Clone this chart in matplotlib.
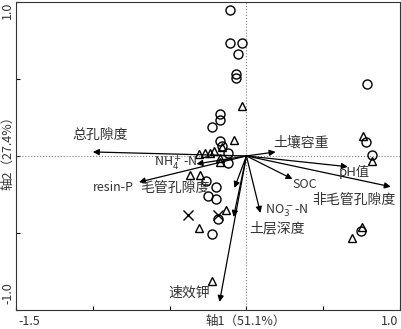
import matplotlib
matplotlib.use('Agg')
import matplotlib.pyplot as plt

plt.rcParams['font.family'] = ['Noto Sans CJK SC', 'DejaVu Sans']

# 样点得分
circle_x = [-0.110, -0.110, -0.032, -0.052, -0.071, -0.071, -0.169, -0.169, -0.227, -0.175,
            -0.162, -0.123, -0.117, -0.266, -0.195, -0.253, -0.195, -0.188, -0.221,
            0.786, 0.779, 0.818, 0.747]
circle_y = [0.948, 0.734, 0.734, 0.662, 0.532, 0.506, 0.273, 0.234, 0.188, 0.097,
            0.065, 0.019, -0.045, -0.162, -0.201, -0.260, -0.279, -0.409, -0.506,
            0.468, 0.091, 0.006, -0.487]
tri_x = [-0.026, -0.078, -0.156, -0.214, -0.312, -0.273, -0.234, -0.169, -0.175,
         -0.370, -0.305, -0.136, -0.312, -0.221, 0.760, 0.818, 0.753, 0.688]
tri_y = [0.325, 0.104, 0.058, 0.032, 0.013, 0.019, 0.019, -0.013, -0.039,
         -0.123, -0.123, -0.351, -0.468, -0.812, 0.130, -0.032, -0.461, -0.532]
cross_x = [-0.383, -0.182]
cross_y = [-0.383, -0.383]

# 环境因子
env_names = ['总孔隙度', r'NH$_4^+$-N', 'resin-P', '毛管孔隙度', '土层深度',
             r'NO$_3^-$-N', 'SOC', '非毛管孔隙度', 'pH值', '土壤容重', '速效钾']
env_x = [-1.00, -0.325, -0.70, -0.078, -0.084, 0.091, 0.30, 0.94, 0.66, 0.19, -0.175]
env_y = [0.026, -0.052, -0.17, -0.208, -0.396, -0.370, -0.15, -0.20, -0.07, 0.026, -0.948]
label_x = [-0.955, -0.461, -0.864, -0.468, 0.201, 0.260, 0.377, 0.701, 0.700, 0.357, -0.370]
label_y = [0.136, -0.045, -0.208, -0.208, -0.468, -0.357, -0.188, -0.286, -0.104, 0.084, -0.890]
label_size = [10, 9, 9, 10, 10, 9, 9, 10, 9.5, 10, 10]

fig = plt.figure(figsize=(4.02, 3.29), dpi=100)
ax = fig.add_axes([0.04, 0.058, 0.955, 0.936])

ax.axhline(0, color='gray', ls=':', lw=0.8)
ax.axvline(0, color='gray', ls=':', lw=0.8)

ax.plot(circle_x, circle_y, 'o', mfc='none', mec='black', ms=6.5, mew=1.0)
ax.plot(tri_x, tri_y, '^', mfc='none', mec='black', ms=5.5, mew=1.0)
ax.plot(cross_x, cross_y, 'x', color='black', ms=6.5, mew=1.0)

for i in range(len(env_names)):
    ax.annotate('', xy=(env_x[i], env_y[i]), xytext=(0, 0),
                arrowprops=dict(arrowstyle='-|>', color='black', lw=0.9,
                                mutation_scale=9, shrinkA=0, shrinkB=0))
    ax.text(label_x[i], label_y[i], env_names[i], ha='center', va='center',
            fontsize=label_size[i], color='#333333')

ax.set_xlim(-1.5, 1.0)
ax.set_ylim(-1.0, 1.0)
ax.set_xticks([-1.5, -1.0, -0.5, 0, 0.5, 1.0])
ax.set_yticks([-1.0, -0.5, 0, 0.5, 1.0])
ax.set_xticklabels([])
ax.set_yticklabels([])
ax.tick_params(direction='in', length=3, width=0.8)
for s in ax.spines.values():
    s.set_linewidth(0.8)
    s.set_color('#333333')

# 刻度标签和轴标题
fig.text(0.045, 0.003, '-1.5', ha='left', va='bottom', fontsize=9, color='#333333')
fig.text(0.99, 0.003, '1.0', ha='right', va='bottom', fontsize=9, color='#333333')
fig.text(0.003, 0.994, '1.0', ha='left', va='top', rotation=90, fontsize=9, color='#333333')
fig.text(0.003, 0.075, '-1.0', ha='left', va='bottom', rotation=90, fontsize=9, color='#333333')
fig.text(0.61, 0.003, '轴1（51.1%）', ha='center', va='bottom', fontsize=9, color='#333333')
fig.text(0.003, 0.545, '轴2（27.4%）', ha='left', va='center', rotation=90, fontsize=9, color='#333333')

plt.savefig('out.png', dpi=100)
